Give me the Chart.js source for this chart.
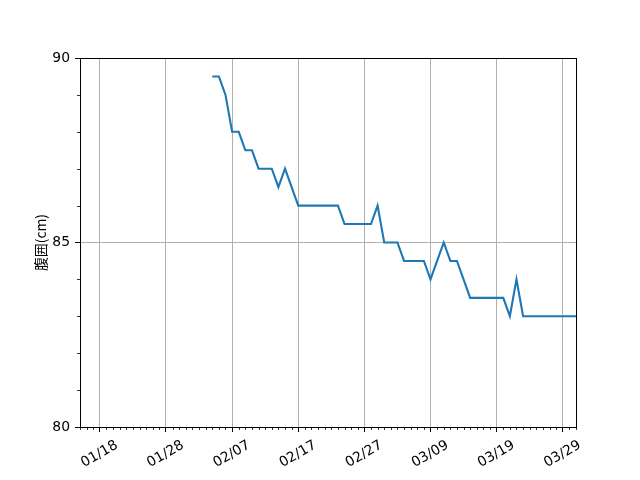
<!DOCTYPE html>
<html>
<head>
<meta charset="utf-8">
<script src="https://cdn.jsdelivr.net/npm/chart.js@4"></script>
<style>
    html, body { margin: 0; padding: 0; background: #fff; }
    canvas { display: block; }
</style>
</head>
<body>
<canvas id="waistChart" width="640" height="480"></canvas>
<script>
// measurement dates (MM/DD) and waist values in cm
const dates = [
    '02/04', '02/05', '02/06', '02/07', '02/08', '02/09', '02/10', '02/11', '02/12', '02/13',
    '02/14', '02/15', '02/16', '02/17', '02/18', '02/19', '02/20', '02/21', '02/22', '02/23',
    '02/24', '02/25', '02/26', '02/27', '02/28', '03/01', '03/02', '03/03', '03/04', '03/05',
    '03/06', '03/07', '03/08', '03/09', '03/10', '03/11', '03/12', '03/13', '03/14', '03/15',
    '03/16', '03/17', '03/18', '03/19', '03/20', '03/21', '03/22', '03/23', '03/24', '03/25',
    '03/26', '03/27', '03/28', '03/29', '03/30', '03/31'
];
const waist = [
    89.5, 89.5, 89.0, 88.0, 88.0, 87.5, 87.5, 87.0, 87.0, 87.0,
    86.5, 87.0, 86.5, 86.0, 86.0, 86.0, 86.0, 86.0, 86.0, 86.0,
    85.5, 85.5, 85.5, 85.5, 85.5, 86.0, 85.0, 85.0, 85.0, 84.5,
    84.5, 84.5, 84.5, 84.0, 84.5, 85.0, 84.5, 84.5, 84.0, 83.5,
    83.5, 83.5, 83.5, 83.5, 83.5, 83.0, 84.0, 83.0, 83.0, 83.0,
    83.0, 83.0, 83.0, 83.0, 83.0, 83.0
];

const xRange = ['01/15', '03/31'];
const xTickLabels = ['01/18', '01/28', '02/07', '02/17', '02/27', '03/09', '03/19', '03/29'];
const yRange = [80, 90];
const yTicks = [80, 85, 90];

const monthStart = [0, 0, 31, 59, 90, 120, 151, 181, 212, 243, 273, 304, 334];

function toDay(label) {
    const [m, d] = label.split('/').map(Number);
    return monthStart[m] + d;
}

function toLabel(day) {
    let m = 1;
    while (m < 12 && monthStart[m + 1] < day) m++;
    const d = day - monthStart[m];
    return String(m).padStart(2, '0') + '/' + String(d).padStart(2, '0');
}

const majorDays = xTickLabels.map(toDay);
const points = dates.map((d, i) => ({ x: toDay(d), y: waist[i] }));

// box around plot area + minor ticks (daily on x, every 1cm on y)
const framePlugin = {
    id: 'frame',
    afterDraw(chart) {
        const { ctx, chartArea: a, scales: { x, y } } = chart;
        ctx.save();
        ctx.strokeStyle = '#000';
        ctx.lineWidth = 0.8;
        for (let d = x.min; d <= x.max; d++) {
            if (majorDays.includes(d)) continue;
            const px = Math.round(x.getPixelForValue(d)) + 0.5;
            ctx.beginPath();
            ctx.moveTo(px, a.bottom);
            ctx.lineTo(px, a.bottom + 3);
            ctx.stroke();
        }
        for (let v = y.min; v <= y.max; v++) {
            if (yTicks.includes(v)) continue;
            const py = Math.round(y.getPixelForValue(v)) + 0.5;
            ctx.beginPath();
            ctx.moveTo(a.left - 3, py);
            ctx.lineTo(a.left, py);
            ctx.stroke();
        }
        ctx.lineWidth = 1;
        ctx.strokeRect(a.left + 0.5, a.top + 0.5, a.right - a.left, a.bottom - a.top);
        ctx.restore();
    }
};

const tickFont = { family: 'DejaVu Sans', size: 13.9 };

new Chart(document.getElementById('waistChart').getContext('2d'), {
    type: 'line',
    data: {
        datasets: [{
            data: points,
            borderColor: '#1f77b4',
            borderWidth: 2.1,
            pointRadius: 0,
            tension: 0,
            fill: false
        }]
    },
    options: {
        responsive: false,
        animation: false,
        devicePixelRatio: 1,
        layout: { padding: { left: 0, top: 58, right: 64, bottom: 0 } },
        plugins: {
            legend: { display: false },
            tooltip: { enabled: false }
        },
        scales: {
            x: {
                type: 'linear',
                min: toDay(xRange[0]),
                max: toDay(xRange[1]),
                afterBuildTicks(scale) {
                    scale.ticks = majorDays.map((v) => ({ value: v }));
                },
                afterFit(scale) { scale.height = 53; },
                ticks: {
                    callback: (v) => toLabel(v),
                    minRotation: 30,
                    maxRotation: 30,
                    labelOffset: 17,
                    padding: 5,
                    color: '#000',
                    font: tickFont
                },
                grid: {
                    color: '#b0b0b0',
                    lineWidth: 1,
                    tickColor: '#000',
                    tickLength: 5,
                    tickWidth: 1
                },
                border: { display: true, color: '#000', width: 1 }
            },
            y: {
                min: yRange[0],
                max: yRange[1],
                afterBuildTicks(scale) {
                    scale.ticks = yTicks.map((v) => ({ value: v }));
                },
                afterFit(scale) { scale.width = 80; },
                ticks: {
                    padding: 5,
                    color: '#000',
                    font: tickFont
                },
                grid: {
                    color: '#b0b0b0',
                    lineWidth: 1,
                    tickColor: '#000',
                    tickLength: 5,
                    tickWidth: 1
                },
                border: { display: true, color: '#000', width: 1 },
                title: {
                    display: true,
                    text: '腹囲(cm)',
                    color: '#000',
                    font: { family: 'Noto Sans CJK JP', size: 13.9 },
                    padding: { top: 32, bottom: 0 }
                }
            }
        }
    },
    plugins: [framePlugin]
});
</script>
</body>
</html>
